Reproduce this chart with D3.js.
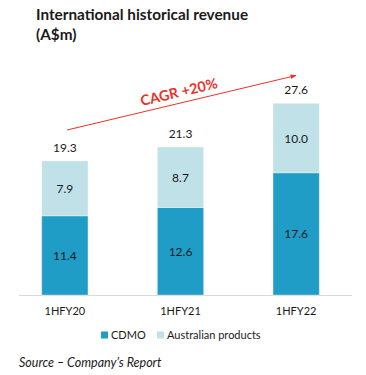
<!DOCTYPE html>
<html><head><meta charset="utf-8">
<script src="https://cdn.jsdelivr.net/npm/d3@7"></script>
<style>body{margin:0;background:#fff}svg{display:block}</style>
</head><body>
<svg id="c" width="366" height="375"></svg>
<script>
const categories = ["1HFY20", "1HFY21", "1HFY22"];
const cdmo = [11.4, 12.6, 17.6];
const australian = [7.9, 8.7, 10.0];
const totals = [19.3, 21.3, 27.6];
const seriesNames = ["CDMO", "Australian products"];
const colors = ["#1f9dc7", "#c0e1e8"];
const titleLines = ["International historical revenue", "(A$m)"];
const cagrLabel = "CAGR +20%";
const source = "Source \u2013 Company\u2019s Report";

const svg = d3.select("#c");
const font = "Lato, 'Open Sans', sans-serif";
const baseY = 295;
const x = d3.scaleBand().domain(categories).range([7, 354]).paddingInner(0.6).paddingOuter(0.3);
const y = d3.scaleLinear().domain([0, 27.6]).range([baseY, 103.3]);

svg.selectAll("text.title").data(titleLines).join("text")
  .attr("x", 36).attr("y", (d, i) => 20 + i * 20)
  .attr("font-family", font).attr("font-weight", "bold").attr("font-size", 15.3)
  .attr("fill", "#1a1a1a").text(d => d);

const stackData = categories.map((c, i) => ({cat: c, CDMO: cdmo[i], "Australian products": australian[i]}));
const stacked = d3.stack().keys(seriesNames)(stackData);

svg.append("line").attr("x1", 19).attr("x2", 352).attr("y1", baseY + 0.5).attr("y2", baseY + 0.5)
  .attr("stroke", "#d9d9d9").attr("stroke-width", 1);

const g = svg.selectAll("g.s").data(stacked).join("g").attr("fill", (d, i) => colors[i]);
g.selectAll("rect").data(d => d).join("rect")
  .attr("x", d => x(d.data.cat)).attr("width", x.bandwidth())
  .attr("y", d => y(d[1])).attr("height", d => y(d[0]) - y(d[1]))
  .attr("stroke", "#ffffff").attr("stroke-opacity", 0.35).attr("stroke-width", 1);

g.selectAll("text").data(d => d).join("text")
  .attr("x", d => x(d.data.cat) + x.bandwidth() / 2)
  .attr("y", d => (y(d[0]) + y(d[1])) / 2 + 4.5)
  .attr("text-anchor", "middle").attr("font-family", font).attr("font-size", 12)
  .attr("fill", "#1a1a1a").text(d => (d[1] - d[0]).toFixed(1));

svg.selectAll("text.tot").data(categories).join("text").attr("class", "tot")
  .attr("x", d => x(d) + x.bandwidth() / 2)
  .attr("y", (d, i) => y(totals[i]) - 9)
  .attr("text-anchor", "middle").attr("font-family", font).attr("font-size", 12)
  .attr("fill", "#1a1a1a").text((d, i) => totals[i].toFixed(1));

svg.selectAll("text.xl").data(categories).join("text").attr("class", "xl")
  .attr("x", d => x(d) + x.bandwidth() / 2).attr("y", 315)
  .attr("text-anchor", "middle").attr("font-family", font).attr("font-size", 11)
  .attr("fill", "#1a1a1a").text(d => d);

// CAGR arrow
const red = "#e8332a";
const defs = svg.append("defs");
defs.append("marker").attr("id", "ah").attr("viewBox", "0 0 10 10").attr("refX", 9).attr("refY", 5)
  .attr("markerWidth", 6).attr("markerHeight", 6).attr("orient", "auto")
  .append("path").attr("d", "M0,1 L10,5 L0,9 z").attr("fill", red);
const x0 = 67, y0 = 130, x1 = 296, y1 = 75.5;
svg.append("line").attr("x1", x0).attr("y1", y0).attr("x2", x1).attr("y2", y1)
  .attr("stroke", red).attr("stroke-width", 1).attr("marker-end", "url(#ah)");
const ang = Math.atan2(y1 - y0, x1 - x0) * 180 / Math.PI;
svg.append("text").attr("transform", `translate(180,97) rotate(${ang})`)
  .attr("text-anchor", "middle").attr("font-family", font).attr("font-weight", "bold")
  .attr("font-size", 14.3).attr("fill", red).text(cagrLabel);

// legend
const legX = [101, 157];
const lg = svg.selectAll("g.lg").data(seriesNames).join("g").attr("transform", (d, i) => `translate(${legX[i]},335)`);
lg.append("rect").attr("x", 0).attr("y", -3.5).attr("width", 7).attr("height", 7).attr("fill", (d, i) => colors[i]);
lg.append("text").attr("x", 10).attr("y", 4).attr("font-family", font).attr("font-size", 11)
  .attr("fill", "#1a1a1a").text(d => d);

svg.append("text").attr("x", 19).attr("y", 367).attr("font-family", font).attr("font-style", "italic")
  .attr("font-size", 12.5).attr("fill", "#1a1a1a").text(source);
</script>
</body></html>
